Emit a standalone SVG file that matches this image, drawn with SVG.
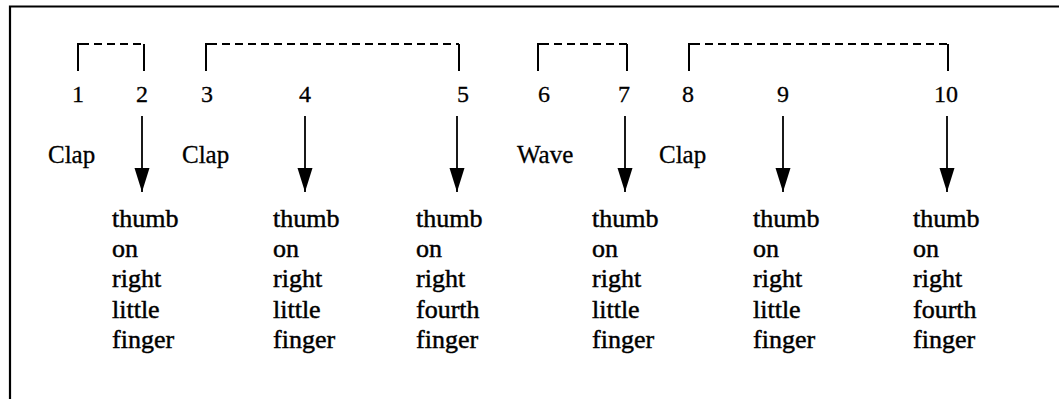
<svg xmlns="http://www.w3.org/2000/svg" width="1059" height="399" viewBox="0 0 1059 399">
  <style>
    .frame { fill: none; stroke: #000; stroke-width: 2.2; }
    .tick { stroke: #000; stroke-width: 2; fill: none; }
    .span { stroke: #000; stroke-width: 1.8; stroke-dasharray: 8 5; fill: none; }
    .num { font-family: "Liberation Serif", "Times New Roman", serif; font-size: 24px; fill: #000; stroke: #000; stroke-width: 0.3; text-anchor: middle; }
    .act { font-family: "Liberation Serif", "Times New Roman", serif; font-size: 25px; fill: #000; stroke: #000; stroke-width: 0.3; }
    .desc { font-family: "Liberation Serif", "Times New Roman", serif; font-size: 26px; fill: #000; stroke: #000; stroke-width: 0.45; }
    .arrow { stroke: #000; stroke-width: 1.8; fill: none; marker-end: url(#head); }
  </style>
  <defs>
    <marker id="head" markerUnits="userSpaceOnUse" markerWidth="26" markerHeight="16" refX="24" refY="7.5" orient="auto" viewBox="0 0 26 16">
      <path d="M0,0 L24,7.5 L0,15 Z" fill="#000"/>
    </marker>
  </defs>
  <rect width="1059" height="399" fill="#fff"/>

  <!-- outer frame: top and left edges only -->
  <path class="frame" d="M10,399 L10,6.5 L1059,6.5"/>

  <!-- grouping brackets over the beat numbers -->
  <g id="brackets">
    <path class="tick" d="M78,71 L78,44 L81,44"/>
    <path class="span" d="M81,44 L144,44"/>
    <path class="tick" d="M144,44 L144,71"/>

    <path class="tick" d="M206,71 L206,44 L209,44"/>
    <path class="span" d="M209,44 L459,44"/>
    <path class="tick" d="M459,44 L459,71"/>

    <path class="tick" d="M538,71 L538,44 L541,44"/>
    <path class="span" d="M541,44 L627,44"/>
    <path class="tick" d="M627,44 L627,71"/>

    <path class="tick" d="M689,71 L689,44 L692,44"/>
    <path class="span" d="M692,44 L948,44"/>
    <path class="tick" d="M948,44 L948,71"/>
  </g>

  <!-- beat numbers -->
  <g id="beats">
    <text class="num" x="78" y="102">1</text>
    <text class="num" x="142" y="102">2</text>
    <text class="num" x="207" y="102">3</text>
    <text class="num" x="305" y="102">4</text>
    <text class="num" x="463" y="102">5</text>
    <text class="num" x="544" y="102">6</text>
    <text class="num" x="624" y="102">7</text>
    <text class="num" x="688" y="102">8</text>
    <text class="num" x="783" y="102">9</text>
    <text class="num" x="946" y="102">10</text>
  </g>

  <!-- actions between beats -->
  <g id="actions">
    <text class="act" x="48" y="163">Clap</text>
    <text class="act" x="182" y="163">Clap</text>
    <text class="act" x="517" y="163">Wave</text>
    <text class="act" x="659" y="163">Clap</text>
  </g>

  <!-- arrows from beats down to finger positions -->
  <g id="connectors">
    <line class="arrow" x1="142" y1="116" x2="142" y2="192"/>
    <line class="arrow" x1="305" y1="116" x2="305" y2="192"/>
    <line class="arrow" x1="457" y1="116" x2="457" y2="192"/>
    <line class="arrow" x1="625" y1="116" x2="625" y2="192"/>
    <line class="arrow" x1="783" y1="116" x2="783" y2="192"/>
    <line class="arrow" x1="947" y1="116" x2="947" y2="192"/>
  </g>

  <g id="pos-2">
    <text class="desc" x="112" y="227">thumb</text>
    <text class="desc" x="112" y="257">on</text>
    <text class="desc" x="112" y="287">right</text>
    <text class="desc" x="112" y="318">little</text>
    <text class="desc" x="112" y="348">finger</text>
  </g>
  <g id="pos-4">
    <text class="desc" x="273" y="227">thumb</text>
    <text class="desc" x="273" y="257">on</text>
    <text class="desc" x="273" y="287">right</text>
    <text class="desc" x="273" y="318">little</text>
    <text class="desc" x="273" y="348">finger</text>
  </g>
  <g id="pos-5">
    <text class="desc" x="416" y="227">thumb</text>
    <text class="desc" x="416" y="257">on</text>
    <text class="desc" x="416" y="287">right</text>
    <text class="desc" x="416" y="318">fourth</text>
    <text class="desc" x="416" y="348">finger</text>
  </g>
  <g id="pos-7">
    <text class="desc" x="592" y="227">thumb</text>
    <text class="desc" x="592" y="257">on</text>
    <text class="desc" x="592" y="287">right</text>
    <text class="desc" x="592" y="318">little</text>
    <text class="desc" x="592" y="348">finger</text>
  </g>
  <g id="pos-9">
    <text class="desc" x="753" y="227">thumb</text>
    <text class="desc" x="753" y="257">on</text>
    <text class="desc" x="753" y="287">right</text>
    <text class="desc" x="753" y="318">little</text>
    <text class="desc" x="753" y="348">finger</text>
  </g>
  <g id="pos-10">
    <text class="desc" x="913" y="227">thumb</text>
    <text class="desc" x="913" y="257">on</text>
    <text class="desc" x="913" y="287">right</text>
    <text class="desc" x="913" y="318">fourth</text>
    <text class="desc" x="913" y="348">finger</text>
  </g>
</svg>
